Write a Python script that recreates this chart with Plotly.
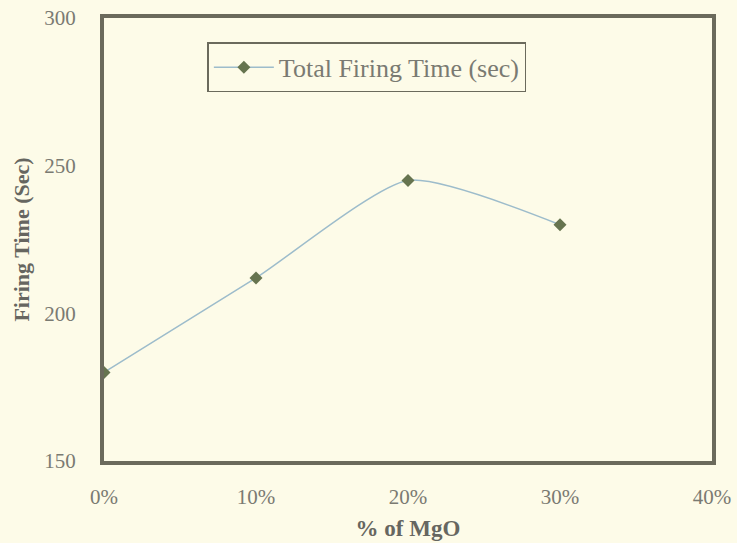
import plotly.graph_objects as go

# MgO content (fraction) and measured total firing time
mgo_pct = [0.0, 0.10, 0.20, 0.30]
firing_time = [180, 212, 245, 230]
x_ticks = [0.0, 0.10, 0.20, 0.30, 0.40]
x_tick_text = ["0%", "10%", "20%", "30%", "40%"]
y_ticks = [150, 200, 250, 300]

bg = "#fdfbe8"
frame = "#6b6a5c"
serif = "Liberation Serif, Times New Roman, serif"

fig = go.Figure()
fig.add_trace(go.Scatter(
    x=mgo_pct, y=firing_time, mode="lines+markers",
    name="Total Firing Time (sec)",
    line=dict(color="#9dbccb", width=1.5, shape="spline", smoothing=0.6),
    marker=dict(symbol="diamond", size=10, color="#66744f"),
))

fig.update_layout(
    width=737, height=543,
    paper_bgcolor=bg, plot_bgcolor=bg,
    margin=dict(l=104, r=25, t=18, b=82),
    font=dict(family=serif, color="#7a7a72", size=21),
    showlegend=True,
    legend=dict(
        x=0.17, y=0.945, xanchor="left", yanchor="top",
        bgcolor=bg, bordercolor=frame, borderwidth=1.5,
        itemwidth=60,
        font=dict(family=serif, size=26, color="#7a7a72"),
    ),
    xaxis=dict(
        range=[0, 0.40], tickvals=x_ticks, ticktext=x_tick_text,
        showgrid=False, zeroline=False, showline=True, mirror=True,
        linecolor=frame, linewidth=4, ticks="", ticklen=0,
        ticklabelstandoff=14, automargin=False,
        title=dict(text="<b>% of MgO</b>", font=dict(family=serif, size=23, color="#666660"), standoff=13),
    ),
    yaxis=dict(
        range=[150, 300], tickvals=y_ticks,
        showgrid=False, zeroline=False, showline=True, mirror=True,
        linecolor=frame, linewidth=4, ticks="", ticklen=0,
        ticklabelstandoff=20, automargin=False,
        title=dict(text="<b>Firing Time (Sec)</b>", font=dict(family=serif, size=22, color="#666660"), standoff=10),
    ),
)

fig.write_html("out.html")
